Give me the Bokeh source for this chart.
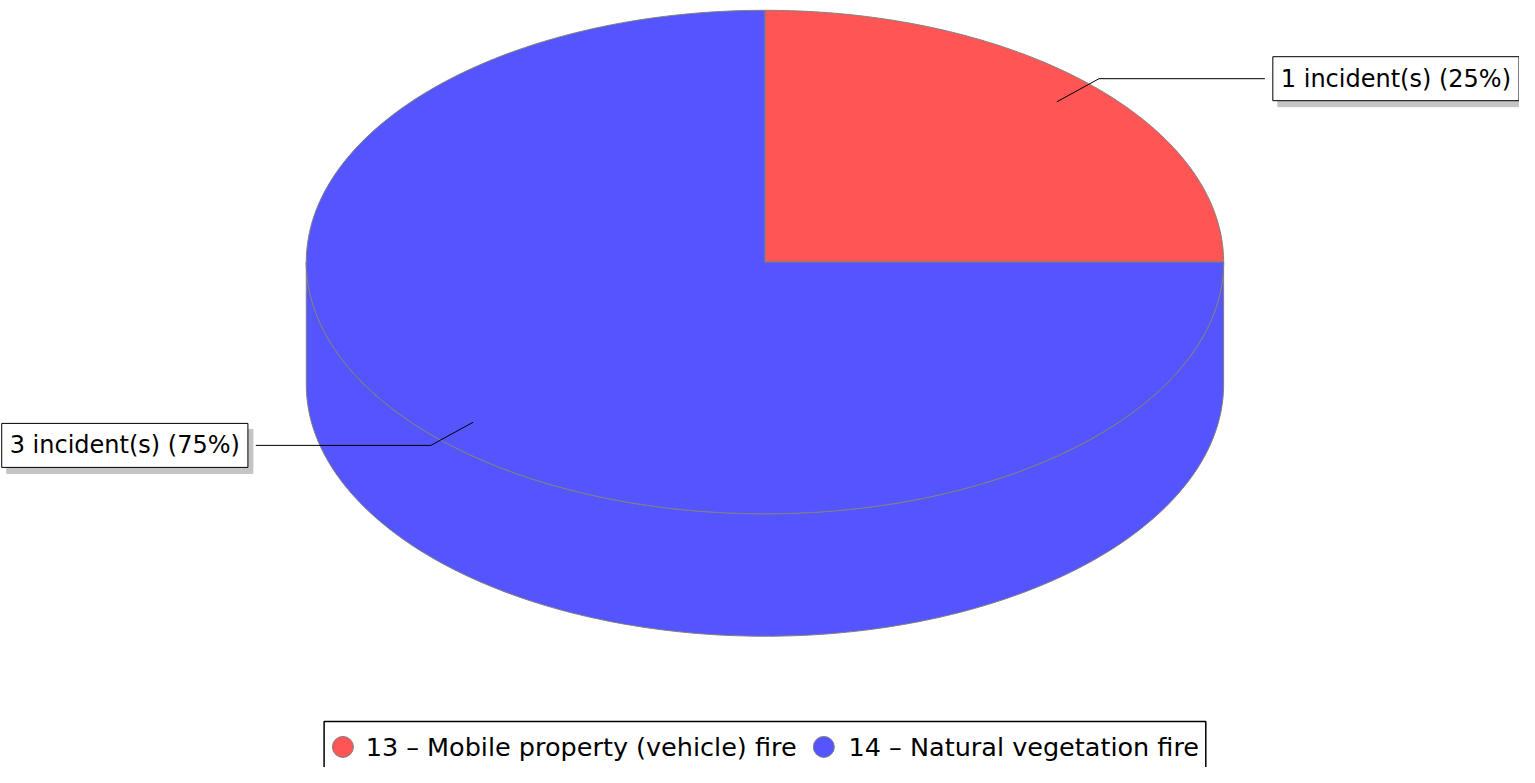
import numpy as np
from bokeh.plotting import figure
from bokeh.models import Range1d, Label
from bokeh.embed import file_html
from bokeh.resources import INLINE
from bokeh.core.properties import value

# ---- data ----
categories = ["13 – Mobile property (vehicle) fire", "14 – Natural vegetation fire"]
counts = [1, 3]
colors = ["#FF5555", "#5555FF"]

# ---- layout (pixel-like data space matching 1535x783 reference) ----
W, H = 1519, 767
p = figure(width=W, height=H, x_range=Range1d(0, 1535), y_range=Range1d(783, 0),
           output_backend="svg", toolbar_location=None, min_border=0,
           x_axis_type=None, y_axis_type=None)
p.grid.visible = False
p.outline_line_color = None
p.background_fill_color = "white"
p.border_fill_color = "white"

cx, cy, rx, ry, depth = 772.5, 267.0, 463.5, 257.0, 125.0
EDGE = "#808080"
FONT = "DejaVu Sans"


def pt(theta_deg, frac=1.0, dy=0.0):
    t = np.radians(theta_deg)
    return cx + frac * rx * np.cos(t), cy - frac * ry * np.sin(t) + dy


total = float(sum(counts))
fracs = [c / total for c in counts]
starts, ends = [], []
a = 90.0
for f in fracs:
    starts.append(a)
    ends.append(a - f * 360.0)
    a = a - f * 360.0

# ---- side walls (front half only) ----
for s, e, col in zip(starts, ends, colors):
    lo, hi = min(s, e), max(s, e)
    for k in range(-2, 3):
        flo, fhi = 180 + 360 * k, 360 + 360 * k
        a0, a1 = max(lo, flo), min(hi, fhi)
        if a1 - a0 > 1e-6:
            th = np.linspace(a0, a1, 200)
            xt, yt = pt(th)
            xb, yb = pt(th[::-1], 1.0, depth)
            xs = np.concatenate([xt, xb])
            ys = np.concatenate([yt, yb])
            p.patch(xs, ys, fill_color=col, line_color=EDGE, line_width=1)

# ---- top wedges ----
for s, e, col in zip(starts, ends, colors):
    th = np.linspace(s, e, 300)
    xa, ya = pt(th)
    xs = np.concatenate([[cx], xa, [cx]])
    ys = np.concatenate([[cy], ya, [cy]])
    p.patch(xs, ys, fill_color=col, line_color=EDGE, line_width=1)

# ---- labels with leader lines ----
for i, (s, e, c, f) in enumerate(zip(starts, ends, counts, fracs)):
    m = (s + e) / 2.0
    ax, ay = pt(m, 0.9)
    ex, ey = pt(m, 1.03)
    right = np.cos(np.radians(m)) >= 0
    bx = cx + 1.09 * rx if right else cx - 1.11 * rx
    p.line([ax, ex, bx], [ay, ey, ey], line_color="black", line_width=1)
    txt = f"{c} incident(s) ({round(f * 100)}%)"
    pad = 8
    tx = bx + pad if right else bx - pad
    align = "left" if right else "right"
    shadow = Label(x=tx, y=ey, text=txt, text_align=align, text_baseline="middle",
                   text_font=FONT, text_font_size="24px", text_color="#C4C4C4",
                   x_offset=5, y_offset=-6, padding=8,
                   background_fill_color="#C4C4C4", border_line_color="#C4C4C4")
    lab = Label(x=tx, y=ey, text=txt, text_align=align, text_baseline="middle",
                text_font=FONT, text_font_size="24px", text_color="black",
                padding=8, background_fill_color="white",
                border_line_color="black", border_line_width=1)
    p.add_layout(shadow)
    p.add_layout(lab)

# ---- legend ----
p.quad(left=[327], right=[1218], top=[736], bottom=[800],
       fill_color="white", line_color="black", line_width=1.5)
leg_circle_x = [346, 832]
leg_text_x = [369, 857]
leg_y = 762
p.scatter(leg_circle_x, [leg_y] * 2, size=21, marker="circle",
          fill_color=colors, line_color=EDGE, line_width=1)
p.text(leg_text_x, [leg_y] * 2, text=categories, text_font=value(FONT),
       text_font_size="25.5px", text_baseline="middle", text_align="left",
       text_color="black")

open("out.html", "w").write(file_html(p, INLINE))
